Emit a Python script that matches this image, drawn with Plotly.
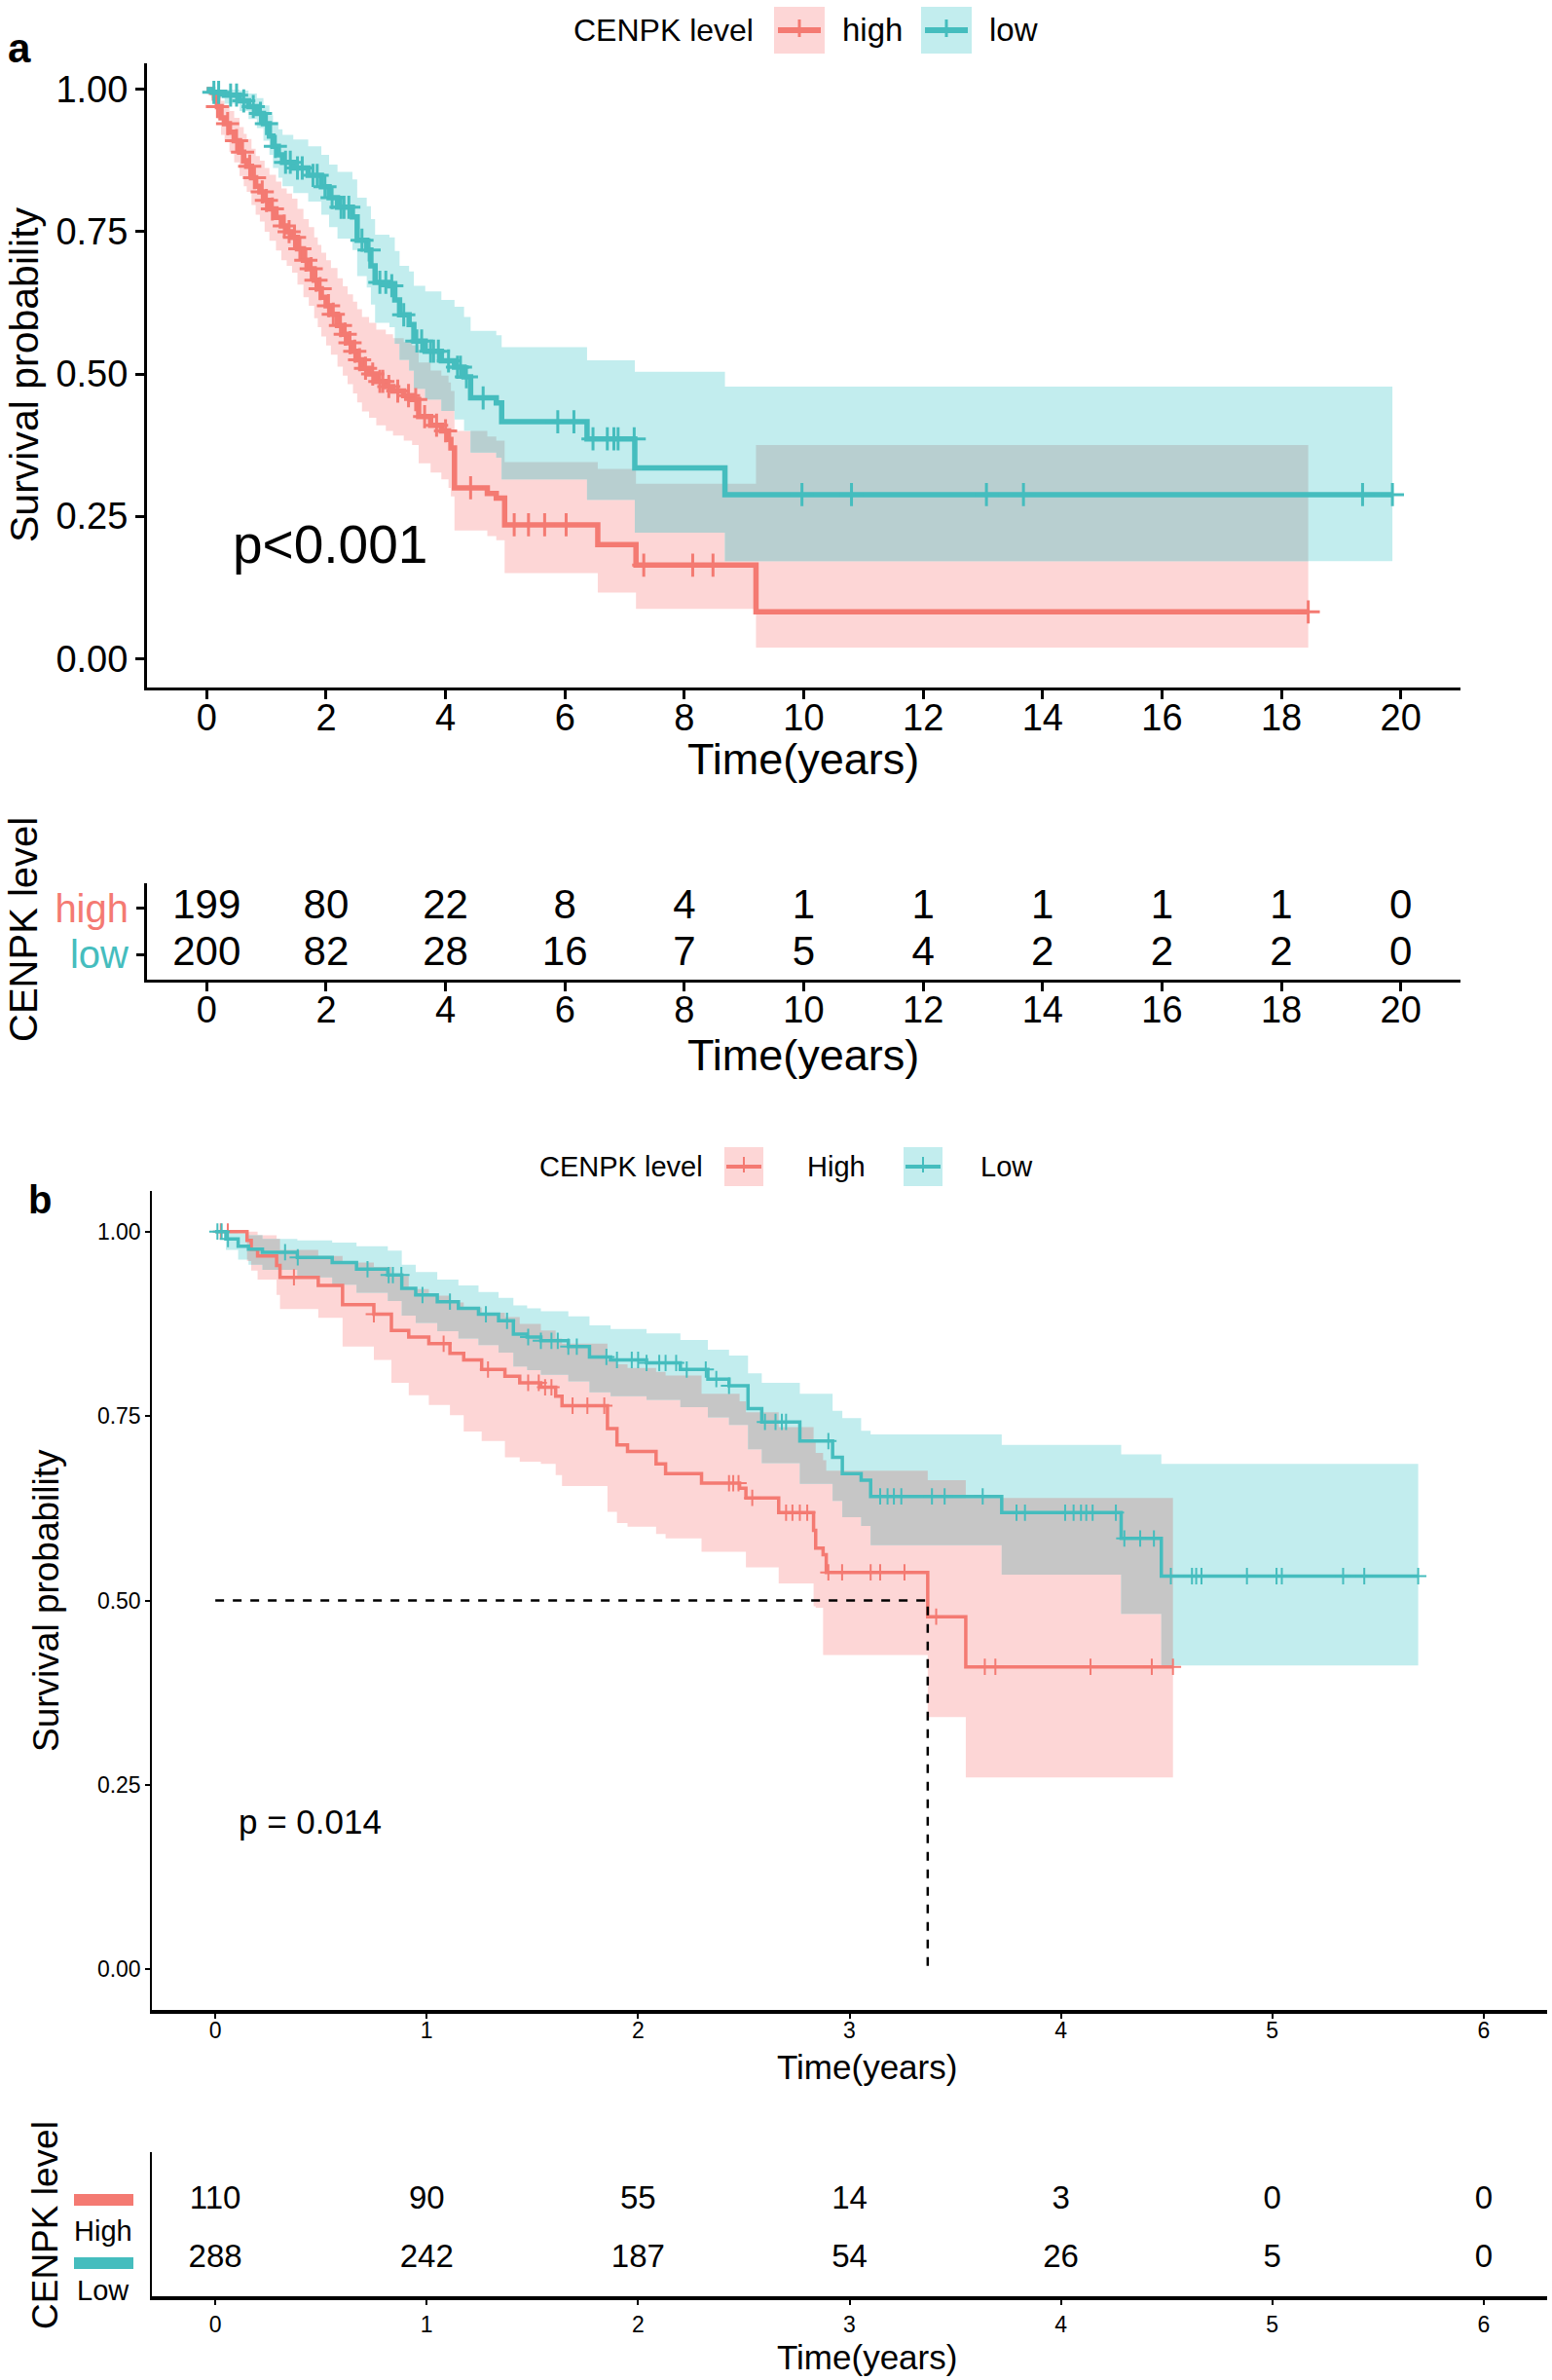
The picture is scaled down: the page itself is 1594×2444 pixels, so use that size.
import numpy as np
import plotly.graph_objects as go

W, H = 1594, 2444
FONT = "Arial, 'Liberation Sans', Helvetica, sans-serif"
RED = "#F47A72"
TEAL = "#45BDBE"
RED_BAND = "#FDD6D6"
TEAL_BAND = "#C2EDEE"
GREY_A = "#B8CFD0"
GREY_B = "#C6C6C6"

# ---------------- Panel a data ----------------
a_high_t = [0, 0.08, 0.13, 0.18, 0.24, 0.30, 0.38, 0.46, 0.55, 0.62, 0.67, 0.75, 0.82, 0.89, 0.97, 1.05,
            1.16, 1.25, 1.34, 1.43, 1.52, 1.62, 1.71, 1.80, 1.86, 1.92, 2.00, 2.08, 2.19, 2.28, 2.36,
            2.45, 2.52, 2.60, 2.72, 2.84, 3.00, 3.12, 3.30, 3.44, 3.55, 3.75, 3.93, 4.05, 4.09, 4.15,
            4.70, 4.85, 4.99, 6.55, 7.19, 9.20]
a_high_s = [1.0, 0.995, 0.985, 0.97, 0.95, 0.94, 0.925, 0.91, 0.89, 0.875, 0.865, 0.845, 0.83, 0.82, 0.805, 0.79,
            0.775, 0.76, 0.75, 0.74, 0.72, 0.70, 0.685, 0.665, 0.65, 0.635, 0.62, 0.605, 0.585, 0.57, 0.555,
            0.54, 0.525, 0.51, 0.50, 0.487, 0.478, 0.47, 0.462, 0.455, 0.425, 0.41, 0.40, 0.385, 0.37, 0.30,
            0.29, 0.282, 0.235, 0.20, 0.164, 0.082]
a_high_lo = [1.0, 0.985, 0.968, 0.948, 0.92, 0.908, 0.89, 0.872, 0.848, 0.83, 0.82, 0.797, 0.78, 0.768, 0.75, 0.734,
             0.717, 0.70, 0.69, 0.678, 0.657, 0.635, 0.62, 0.598, 0.582, 0.566, 0.55, 0.534, 0.513, 0.497, 0.482,
             0.466, 0.45, 0.434, 0.423, 0.41, 0.40, 0.392, 0.383, 0.375, 0.343, 0.327, 0.315, 0.30, 0.285, 0.225,
             0.215, 0.208, 0.15, 0.116, 0.087, 0.019]
a_high_hi = [1.0, 1.0, 1.0, 0.993, 0.98, 0.973, 0.962, 0.95, 0.934, 0.922, 0.913, 0.896, 0.883, 0.875, 0.862, 0.85,
             0.838, 0.826, 0.817, 0.808, 0.79, 0.772, 0.758, 0.74, 0.727, 0.713, 0.70, 0.686, 0.668, 0.654, 0.64,
             0.627, 0.614, 0.60, 0.59, 0.578, 0.57, 0.563, 0.556, 0.55, 0.52, 0.506, 0.497, 0.485, 0.47, 0.40,
             0.39, 0.383, 0.345, 0.333, 0.307, 0.375]
a_high_end = 18.45
a_high_cens = [0.18, 0.35, 0.5, 0.6, 0.72, 0.8, 0.93, 1.0, 1.1, 1.3, 1.38, 1.47, 1.56, 1.66, 1.75, 1.83, 1.9,
               2.04, 2.12, 2.24, 2.32, 2.4, 2.48, 2.56, 2.66, 2.78, 2.9, 2.95, 3.05, 3.2, 3.38, 3.5, 3.65,
               3.85, 4.0, 4.42, 5.15, 5.39, 5.66, 6.02, 7.32, 8.14, 8.48, 18.45]

a_low_t = [0, 0.1, 0.3, 0.55, 0.7, 0.84, 0.95, 1.05, 1.11, 1.2, 1.27, 1.45, 1.70, 1.92, 2.05, 2.19, 2.44,
           2.52, 2.68, 2.75, 2.82, 3.06, 3.15, 3.23, 3.39, 3.47, 3.66, 3.93, 4.15, 4.31, 4.42, 4.85, 4.94,
           6.37, 7.17, 8.68]
a_low_s = [1.0, 0.995, 0.99, 0.98, 0.97, 0.958, 0.94, 0.918, 0.90, 0.885, 0.872, 0.862, 0.849, 0.829, 0.81,
           0.793, 0.776, 0.735, 0.718, 0.69, 0.661, 0.655, 0.63, 0.604, 0.587, 0.558, 0.54, 0.523, 0.512, 0.495,
           0.458, 0.449, 0.416, 0.386, 0.335, 0.288]
a_low_lo = [1.0, 0.985, 0.975, 0.962, 0.948, 0.932, 0.91, 0.885, 0.862, 0.845, 0.83, 0.818, 0.803, 0.78, 0.758,
            0.738, 0.718, 0.672, 0.652, 0.622, 0.59, 0.582, 0.553, 0.525, 0.506, 0.474, 0.455, 0.435, 0.42, 0.40,
            0.362, 0.353, 0.315, 0.279, 0.221, 0.171]
a_low_hi = [1.0, 1.0, 1.0, 0.998, 0.993, 0.985, 0.972, 0.955, 0.943, 0.93, 0.92, 0.912, 0.90, 0.885, 0.868,
            0.855, 0.842, 0.81, 0.795, 0.772, 0.745, 0.74, 0.716, 0.69, 0.68, 0.655, 0.645, 0.63, 0.618, 0.60,
            0.576, 0.568, 0.547, 0.524, 0.504, 0.478]
a_low_end = 19.86
a_low_cens = [0.12, 0.2, 0.4, 0.5, 0.62, 0.78, 0.9, 1.0, 1.15, 1.32, 1.4, 1.52, 1.6, 1.78, 1.85, 1.98, 2.1,
              2.25, 2.3, 2.38, 2.6, 2.72, 2.9, 3.0, 3.1, 3.3, 3.52, 3.6, 3.75, 3.8, 3.88, 4.05, 4.2, 4.25,
              4.35, 4.63, 5.88, 6.15, 6.47, 6.71, 6.82, 6.89, 7.16, 9.97, 10.8, 13.06, 13.68, 19.36, 19.86]

a_risk_times = [0, 2, 4, 6, 8, 10, 12, 14, 16, 18, 20]
a_risk_high = [199, 80, 22, 8, 4, 1, 1, 1, 1, 1, 0]
a_risk_low = [200, 82, 28, 16, 7, 5, 4, 2, 2, 2, 0]
a_groups = ["high", "low"]
a_yticks = [0, 0.25, 0.5, 0.75, 1.0]

# ---------------- Panel b data ----------------
b_high_t = [0, 0.15, 0.17, 0.20, 0.29, 0.306, 0.487, 0.602, 0.75, 0.833, 0.915, 1.01, 1.11, 1.175, 1.26, 1.37,
            1.44, 1.54, 1.61, 1.64, 1.855, 1.90, 1.95, 2.085, 2.13, 2.30, 2.48, 2.51, 2.665, 2.83, 2.84, 2.875,
            2.89, 3.37, 3.55]
b_high_s = [1.0, 0.988, 0.976, 0.967, 0.954, 0.938, 0.927, 0.901, 0.888, 0.866, 0.857, 0.848, 0.835, 0.826,
            0.813, 0.804, 0.795, 0.789, 0.777, 0.764, 0.733, 0.711, 0.702, 0.685, 0.672, 0.659, 0.652, 0.639,
            0.619, 0.595, 0.571, 0.562, 0.538, 0.478, 0.410]
b_high_lo = [1.0, 0.96, 0.947, 0.935, 0.914, 0.895, 0.883, 0.844, 0.826, 0.795, 0.778, 0.765, 0.751, 0.729,
             0.716, 0.694, 0.688, 0.685, 0.67, 0.655, 0.62, 0.605, 0.60, 0.59, 0.584, 0.566, 0.566, 0.545,
             0.523, 0.492, 0.49, 0.426, 0.426, 0.342, 0.26]
b_high_hi = [1.0, 1.0, 1.0, 0.995, 0.99, 0.975, 0.967, 0.958, 0.952, 0.94, 0.922, 0.913, 0.904, 0.897, 0.89,
             0.884, 0.875, 0.866, 0.855, 0.848, 0.826, 0.82, 0.815, 0.81, 0.805, 0.78, 0.77, 0.755, 0.735,
             0.715, 0.70, 0.69, 0.676, 0.663, 0.639]
b_high_end = 4.53
b_high_cens = [0.026, 0.059, 0.372, 0.75, 1.08, 1.29, 1.48, 1.53, 1.56, 1.59, 1.69, 1.76, 1.84, 2.43, 2.45,
               2.475, 2.54, 2.70, 2.73, 2.765, 2.80, 2.90, 2.965, 3.10, 3.145, 3.26, 3.41, 3.64, 3.69, 4.14,
               4.43, 4.53]

b_low_t = [0, 0.05, 0.108, 0.157, 0.223, 0.388, 0.553, 0.668, 0.816, 0.882, 0.948, 1.05, 1.15, 1.245, 1.34,
           1.41, 1.475, 1.54, 1.67, 1.77, 1.87, 2.04, 2.20, 2.33, 2.43, 2.52, 2.585, 2.765, 2.92, 2.966, 3.055,
           3.10, 3.72, 4.285, 4.475]
b_low_s = [1.0, 0.99, 0.980, 0.976, 0.972, 0.965, 0.958, 0.949, 0.941, 0.923, 0.914, 0.905, 0.896, 0.888,
           0.879, 0.861, 0.857, 0.852, 0.844, 0.830, 0.826, 0.822, 0.813, 0.800, 0.791, 0.760, 0.742, 0.716,
           0.694, 0.672, 0.663, 0.641, 0.619, 0.584, 0.533]
b_low_lo = [1.0, 0.975, 0.962, 0.955, 0.948, 0.938, 0.928, 0.917, 0.906, 0.886, 0.876, 0.865, 0.855, 0.846,
            0.836, 0.817, 0.812, 0.806, 0.797, 0.782, 0.777, 0.772, 0.762, 0.748, 0.738, 0.705, 0.686, 0.658,
            0.635, 0.613, 0.601, 0.575, 0.535, 0.482, 0.412]
b_low_hi = [1.0, 1.0, 0.998, 0.995, 0.99, 0.988, 0.985, 0.98, 0.974, 0.955, 0.945, 0.935, 0.927, 0.918, 0.91,
            0.90, 0.896, 0.892, 0.885, 0.873, 0.868, 0.862, 0.853, 0.84, 0.832, 0.808, 0.795, 0.78, 0.757,
            0.747, 0.73, 0.725, 0.711, 0.698, 0.685]
b_low_end = 5.69
b_low_cens = [0.01, 0.03, 0.06, 0.33, 0.39, 0.72, 0.82, 0.84, 0.88, 0.98, 1.11, 1.28, 1.38, 1.48, 1.54, 1.59,
              1.62, 1.67, 1.71, 1.85, 1.90, 1.97, 2.00, 2.04, 2.10, 2.13, 2.18, 2.23, 2.32, 2.37, 2.43, 2.6,
              2.65, 2.68, 2.7, 2.9, 3.145, 3.18, 3.21, 3.245, 3.39, 3.45, 3.63, 3.79, 3.83, 4.02, 4.06, 4.095,
              4.12, 4.15, 4.26, 4.30, 4.375, 4.44, 4.52, 4.62, 4.64, 4.665, 4.88, 5.02, 5.045, 5.335, 5.435, 5.69]

b_risk_times = [0, 1, 2, 3, 4, 5, 6]
b_risk_high = [110, 90, 55, 14, 3, 0, 0]
b_risk_low = [288, 242, 187, 54, 26, 5, 0]
b_groups = ["High", "Low"]
b_yticks = [0, 0.25, 0.5, 0.75, 1.0]


# ---------------- helpers ----------------
def px(x):
    return x / W


def py(y):
    return 1 - y / H


def band_xy(t, lo, hi, tend):
    edges = list(t[1:]) + [tend]
    xs, ys = [], []
    for i in range(len(t)):
        xs += [t[i], edges[i]]
        ys += [hi[i], hi[i]]
    for i in reversed(range(len(t))):
        xs += [edges[i], t[i]]
        ys += [lo[i], lo[i]]
    return xs, ys


def overlap_xy(tA, loA, hiA, endA, tB, loB, hiB, endB):
    end = min(endA, endB)
    grid = sorted(set([v for v in list(tA) + list(tB) if v < end] + [end]))
    segs = []
    for a, b in zip(grid[:-1], grid[1:]):
        ia = int(np.searchsorted(tA, a, side="right") - 1)
        ib = int(np.searchsorted(tB, a, side="right") - 1)
        lo = max(loA[ia], loB[ib])
        hi = min(hiA[ia], hiB[ib])
        segs.append((a, b, lo, hi) if hi > lo else None)
    polys, cur = [], []
    for s in segs:
        if s is None:
            if cur:
                polys.append(cur)
                cur = []
        else:
            cur.append(s)
    if cur:
        polys.append(cur)
    xs, ys = [], []
    for p in polys:
        for (a, b, lo, hi) in p:
            xs += [a, b]
            ys += [hi, hi]
        for (a, b, lo, hi) in reversed(p):
            xs += [b, a]
            ys += [lo, lo]
        xs.append(None)
        ys.append(None)
    return xs, ys


def surv_at(t, s, c):
    idx = np.searchsorted(np.array(t), np.array(c), side="right") - 1
    return [s[i] for i in idx]


fig = go.Figure()


def add_panel(xa, ya, hi_t, hi_s, hi_lo, hi_hi, hi_end, hi_c, lo_t, lo_s, lo_lo, lo_hi, lo_end, lo_c,
              grey, lw, msize, mlw):
    x, y = band_xy(hi_t, hi_lo, hi_hi, hi_end)
    fig.add_trace(go.Scatter(x=x, y=y, fill="toself", fillcolor=RED_BAND, line=dict(width=0),
                             mode="lines", xaxis=xa, yaxis=ya, showlegend=False, hoverinfo="skip"))
    x, y = band_xy(lo_t, lo_lo, lo_hi, lo_end)
    fig.add_trace(go.Scatter(x=x, y=y, fill="toself", fillcolor=TEAL_BAND, line=dict(width=0),
                             mode="lines", xaxis=xa, yaxis=ya, showlegend=False, hoverinfo="skip"))
    x, y = overlap_xy(hi_t, hi_lo, hi_hi, hi_end, lo_t, lo_lo, lo_hi, lo_end)
    fig.add_trace(go.Scatter(x=x, y=y, fill="toself", fillcolor=grey, line=dict(width=0),
                             mode="lines", xaxis=xa, yaxis=ya, showlegend=False, hoverinfo="skip"))
    for (t, s, end, c, col) in [(hi_t, hi_s, hi_end, hi_c, RED), (lo_t, lo_s, lo_end, lo_c, TEAL)]:
        fig.add_trace(go.Scatter(x=list(t) + [end], y=list(s) + [s[-1]], mode="lines",
                                 line=dict(color=col, width=lw, shape="hv"),
                                 xaxis=xa, yaxis=ya, showlegend=False))
        fig.add_trace(go.Scatter(x=c, y=surv_at(t, s, c), mode="markers",
                                 marker=dict(symbol="cross-thin", size=msize, color=col,
                                             line=dict(color=col, width=mlw)),
                                 xaxis=xa, yaxis=ya, showlegend=False))


add_panel("x", "y", a_high_t, a_high_s, a_high_lo, a_high_hi, a_high_end, a_high_cens,
          a_low_t, a_low_s, a_low_lo, a_low_hi, a_low_end, a_low_cens, GREY_A, 5.5, 17, 3)
add_panel("x3", "y3", b_high_t, b_high_s, b_high_lo, b_high_hi, b_high_end, b_high_cens,
          b_low_t, b_low_s, b_low_lo, b_low_hi, b_low_end, b_low_cens, GREY_B, 3.5, 12, 2)

# median line panel b
med_idx = next(i for i, v in enumerate(b_high_s) if v <= 0.5)
med_t = b_high_t[med_idx]
fig.add_trace(go.Scatter(x=[0, med_t, med_t], y=[0.5, 0.5, 0], mode="lines",
                         line=dict(color="black", width=2.5, dash="dash"),
                         xaxis="x3", yaxis="y3", showlegend=False))

# risk tables
for vals, row in [(a_risk_high, 1), (a_risk_low, 0)]:
    fig.add_trace(go.Scatter(x=a_risk_times, y=[row] * len(a_risk_times), text=[str(v) for v in vals],
                             mode="text", textfont=dict(size=42, color="black", family=FONT),
                             xaxis="x2", yaxis="y2", showlegend=False))
for vals, row in [(b_risk_high, 1), (b_risk_low, 0)]:
    fig.add_trace(go.Scatter(x=b_risk_times, y=[row] * len(b_risk_times), text=[str(v) for v in vals],
                             mode="text", textfont=dict(size=33, color="black", family=FONT),
                             xaxis="x4", yaxis="y4", showlegend=False))

base = dict(showgrid=False, zeroline=False, showline=True, linecolor="black", ticks="outside",
            tickcolor="black")

fig.update_layout(
    width=W, height=H, margin=dict(l=0, r=0, t=0, b=0),
    paper_bgcolor="white", plot_bgcolor="white", font=dict(family=FONT, color="black"),
    xaxis=dict(**base, domain=[px(151), px(1500)], range=[-1, 21], tickvals=a_risk_times,
               linewidth=3, ticklen=9, tickwidth=3, anchor="y", ticklabelstandoff=-14,
               tickfont=dict(family=FONT, color="black", size=38)),
    yaxis=dict(**base, domain=[py(706), py(65)], range=[-0.051, 1.046], tickvals=a_yticks,
               ticktext=["%.2f" % v for v in a_yticks], linewidth=3, ticklen=9, tickwidth=3, anchor="x",
               tickfont=dict(family=FONT, color="black", size=38)),
    xaxis2=dict(**base, domain=[px(151), px(1500)], range=[-1, 21], tickvals=a_risk_times,
                linewidth=3, ticklen=9, tickwidth=3, anchor="y2", ticklabelstandoff=-14,
                tickfont=dict(family=FONT, color="black", size=38)),
    yaxis2=dict(**base, domain=[py(1006), py(907)], range=[-0.55, 1.55], tickvals=[1, 0],
                ticktext=["<span style='color:%s'>%s</span>" % (RED, a_groups[0]),
                          "<span style='color:%s'>%s</span>" % (TEAL, a_groups[1])],
                linewidth=3, ticklen=8, tickwidth=3, anchor="x2",
                tickfont=dict(family=FONT, color="black", size=40)),
    xaxis3=dict(**base, domain=[px(156), px(1589)], range=[-0.3, 6.3], tickvals=b_risk_times,
                linewidth=4, ticklen=5, tickwidth=1.5, anchor="y3", ticklabelstandoff=-8,
                tickfont=dict(family=FONT, color="black", size=23)),
    yaxis3=dict(**base, domain=[py(2064), py(1223)], range=[-0.055, 1.055], tickvals=b_yticks,
                ticktext=["%.2f" % v for v in b_yticks], linewidth=1.5, ticklen=5, tickwidth=1.5,
                anchor="x3", tickfont=dict(family=FONT, color="black", size=23)),
    xaxis4=dict(**base, domain=[px(156), px(1589)], range=[-0.3, 6.3], tickvals=b_risk_times,
                linewidth=4, ticklen=5, tickwidth=1.5, anchor="y4",
                tickfont=dict(family=FONT, color="black", size=23)),
    yaxis4=dict(showgrid=False, zeroline=False, showline=True, linecolor="black", linewidth=1.5,
                domain=[py(2358), py(2210)], range=[-0.64, 1.82], showticklabels=False, ticks="",
                anchor="x4"),
)

ann = []


def text(x, y, s, size, xanchor="center", yanchor="middle", angle=0, bold=False, color="black",
         xref="paper", yref="paper"):
    if xref == "paper":
        x = px(x)
    if yref == "paper":
        y = py(y)
    ann.append(dict(x=x, y=y, xref=xref, yref=yref, text=("<b>%s</b>" % s) if bold else s,
                    showarrow=False, xanchor=xanchor, yanchor=yanchor, textangle=angle,
                    font=dict(size=size, color=color, family=FONT)))


# panel a texts
text(20, 50, "a", 42, bold=True)
text(825, 779, "Time(years)", 45)
text(25, 385, "Survival probability", 41, angle=-90)
text(0.4, 0.2, "p<0.001", 55, xanchor="left", xref="x", yref="y")
text(825, 1083, "Time(years)", 45)
text(24, 955, "CENPK level", 40, angle=-90)
# panel a legend
text(776, 31, "CENPK level", 32, xanchor="right")
text(863, 31, a_groups[0], 33, xanchor="left")
text(1014, 31, a_groups[1], 33, xanchor="left")

# panel b texts
text(41, 1232, "b", 40, bold=True)
text(890, 2122, "Time(years)", 35)
text(47, 1644, "Survival probability", 37, angle=-90)
text(0.1, 0.2, "p = 0.014", 35, xanchor="left", xref="x3", yref="y3")
text(890, 2420, "Time(years)", 35)
text(46, 2285, "CENPK level", 37, angle=-90)
text(106, 2291, b_groups[0], 29)
text(106, 2352, b_groups[1], 29)
# panel b legend
text(724, 1198, "CENPK level", 29, xanchor="right")
text(827, 1198, b_groups[0], 29, xanchor="left")
text(1005, 1198, b_groups[1], 29, xanchor="left")

fig.update_layout(annotations=ann)

shapes = []


def rect(x0, y0, x1, y1, color):
    shapes.append(dict(type="rect", xref="paper", yref="paper", x0=px(x0), x1=px(x1), y0=py(y1), y1=py(y0),
                       fillcolor=color, line=dict(width=0), layer="above"))


def seg(x0, y0, x1, y1, color, w):
    shapes.append(dict(type="line", xref="paper", yref="paper", x0=px(x0), x1=px(x1), y0=py(y0), y1=py(y1),
                       line=dict(color=color, width=w), layer="above"))


# legend keys a
for (bx0, bx1, band, col) in [(795, 847, RED_BAND, RED), (946, 998, TEAL_BAND, TEAL)]:
    rect(bx0, 7, bx1, 55, band)
    seg(bx0 + 4, 31, bx1 - 4, 31, col, 6)
    seg((bx0 + bx1) / 2, 20, (bx0 + bx1) / 2, 38, col, 3)
# legend keys b
for (bx0, bx1, band, col) in [(744, 784, RED_BAND, RED), (928, 968, TEAL_BAND, TEAL)]:
    rect(bx0, 1178, bx1, 1218, band)
    seg(bx0 + 2, 1198, bx1 - 2, 1198, col, 4)
    seg((bx0 + bx1) / 2, 1188, (bx0 + bx1) / 2, 1204, col, 2)
# risk table b swatches
rect(76, 2253, 137, 2265, RED)
rect(76, 2318, 137, 2330, TEAL)

fig.update_layout(shapes=shapes)

fig.write_html("out.html", config={"displayModeBar": False},
               post_script="document.body.style.margin='0';document.body.style.overflow='hidden';")
